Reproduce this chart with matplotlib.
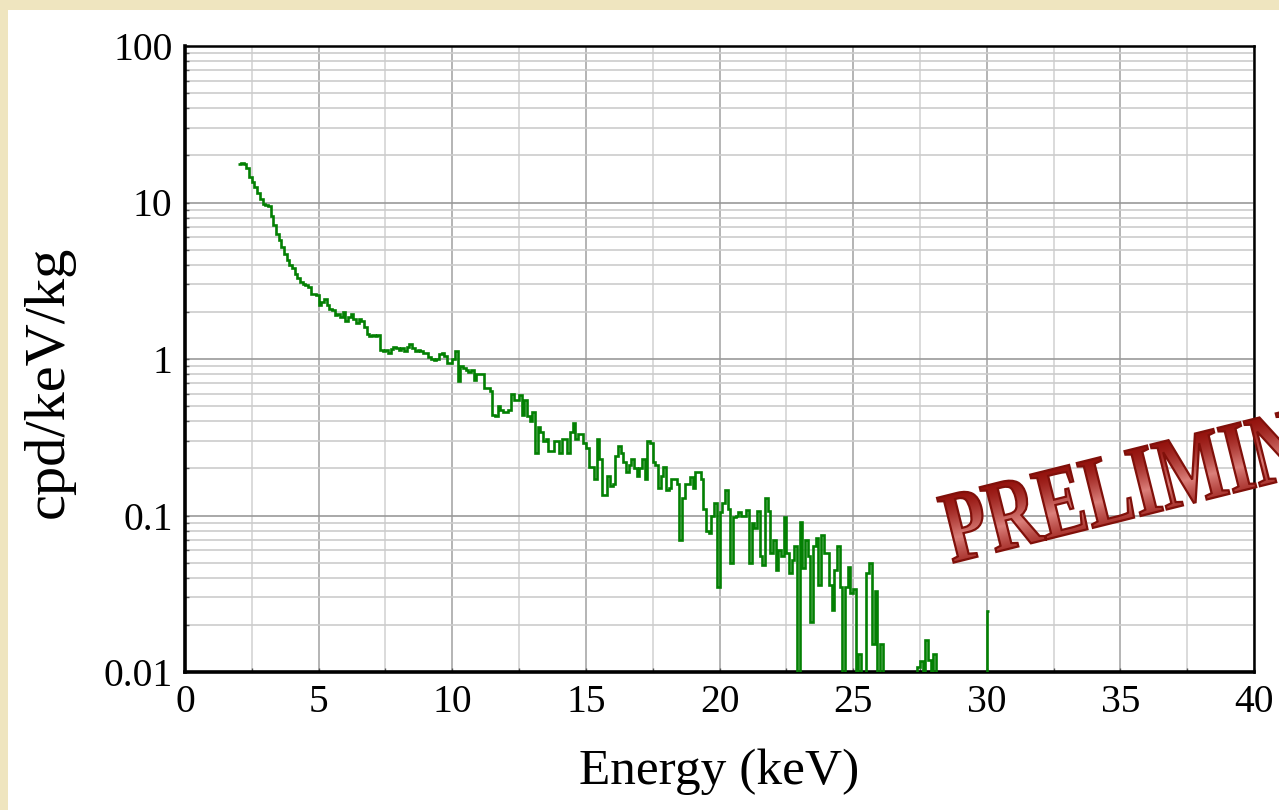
import numpy as np
import matplotlib
matplotlib.use("Agg")
import matplotlib.pyplot as plt
from matplotlib.patches import Rectangle, PathPatch
from matplotlib.textpath import TextPath
from matplotlib.font_manager import FontProperties
from matplotlib.transforms import Affine2D
from matplotlib.ticker import FixedLocator, NullFormatter

# spectrum, 0.1 keV bins starting at 2.0 keV (cpd/keV/kg), one list per keV
bin_start = 2.0
bin_width = 0.1
rate_02 = [17.5, 18, 17.5, 16.5, 14.5, 13.5, 12.5, 11.5, 10.5, 9.8]
rate_03 = [9.6, 9.5, 8.2, 7.2, 6.3, 5.8, 5.2, 4.7, 4.3, 4.0]
rate_04 = [3.8, 3.5, 3.3, 3.1, 3.0, 2.95, 2.9, 2.6, 2.6, 2.55]
rate_05 = [2.2, 2.3, 2.4, 2.2, 2.1, 2.05, 1.9, 1.95, 1.85, 2.0]
rate_06 = [1.75, 1.85, 1.95, 1.8, 1.7, 1.8, 1.75, 1.6, 1.45, 1.4]
rate_07 = [1.42, 1.4, 1.42, 1.15, 1.12, 1.14, 1.1, 1.16, 1.2, 1.18]
rate_08 = [1.15, 1.18, 1.12, 1.2, 1.25, 1.18, 1.13, 1.15, 1.12, 1.1]
rate_09 = [1.1, 1.03, 1.0, 0.99, 1.0, 1.08, 1.1, 1.05, 0.94, 0.94]
rate_10 = [1.0, 1.13, 0.72, 0.9, 0.88, 0.85, 0.83, 0.85, 0.73, 0.8]
rate_11 = [0.8, 0.8, 0.65, 0.65, 0.62, 0.44, 0.43, 0.5, 0.47, 0.46]
rate_12 = [0.46, 0.47, 0.6, 0.55, 0.55, 0.59, 0.44, 0.55, 0.43, 0.40]
rate_13 = [0.46, 0.25, 0.37, 0.34, 0.30, 0.31, 0.26, 0.26, 0.30, 0.30]
rate_14 = [0.25, 0.31, 0.31, 0.25, 0.34, 0.39, 0.31, 0.33, 0.33, 0.29]
rate_15 = [0.27, 0.205, 0.205, 0.17, 0.31, 0.23, 0.135, 0.135, 0.18, 0.155]
rate_16 = [0.16, 0.24, 0.28, 0.25, 0.22, 0.19, 0.21, 0.23, 0.2, 0.18]
rate_17 = [0.2, 0.23, 0.17, 0.30, 0.29, 0.22, 0.21, 0.15, 0.18, 0.205]
rate_18 = [0.145, 0.15, 0.17, 0.17, 0.16, 0.07, 0.13, 0.16, 0.16, 0.175]
rate_19 = [0.15, 0.19, 0.19, 0.17, 0.11, 0.08, 0.077, 0.1, 0.12, 0.035]
rate_20 = [0.105, 0.12, 0.145, 0.11, 0.05, 0.098, 0.1, 0.105, 0.1, 0.1]
rate_21 = [0.108, 0.05, 0.09, 0.083, 0.107, 0.055, 0.048, 0.13, 0.107, 0.058]
rate_22 = [0.07, 0.045, 0.06, 0.055, 0.098, 0.058, 0.043, 0.052, 0.064, 0]
rate_23 = [0.091, 0.046, 0.07, 0.055, 0.021, 0.064, 0.072, 0.036, 0.075, 0.058]
rate_24 = [0.058, 0.036, 0.025, 0.045, 0.064, 0.035, 0, 0.035, 0.047, 0.032]
rate_25 = [0.034, 0, 0.013, 0, 0, 0.043, 0.05, 0.015, 0.033, 0]
rate_26 = [0.015, 0, 0, 0, 0, 0, 0, 0, 0, 0]
rate_27 = [0, 0, 0, 0, 0.0108, 0.0118, 0, 0.016, 0.012, 0]
rate_28 = [0.013, 0, 0, 0, 0, 0, 0, 0, 0, 0]
rate_29 = [0, 0, 0, 0, 0, 0, 0, 0, 0, 0]
rate_30 = [0.0247]

ytick_vals = [0.01, 0.1, 1, 10, 100]
ytick_text = ["0.01", "0.1", "1", "10", "100"]
xtick_vals = [0, 5, 10, 15, 20, 25, 30, 35, 40]

rates = np.array(rate_02 + rate_03 + rate_04 + rate_05 + rate_06 + rate_07 +
                 rate_08 + rate_09 + rate_10 + rate_11 + rate_12 + rate_13 +
                 rate_14 + rate_15 + rate_16 + rate_17 + rate_18 + rate_19 +
                 rate_20 + rate_21 + rate_22 + rate_23 + rate_24 + rate_25 +
                 rate_26 + rate_27 + rate_28 + rate_29 + rate_30, dtype=float)
edges = bin_start + bin_width * np.arange(len(rates) + 1)
rates_plot = np.where(rates > 0, rates, 1e-6)

W, H = 1279, 810
fig = plt.figure(figsize=(W / 100, H / 100), dpi=100)
fig.patch.set_facecolor("#efe5bf")
fig.add_artist(Rectangle((8 / W, 0), 1, 1 - 10 / H, transform=fig.transFigure,
                         facecolor="white", edgecolor="none", zorder=-5))

ax = fig.add_axes([185 / W, 1 - 672 / H, (1254 - 185) / W, (672 - 46) / H])
ax.set_facecolor("white")
ax.set_yscale("log")
ax.set_xlim(0, 40)
ax.set_ylim(0.01, 100)

ax.stairs(rates_plot, edges, baseline=None, color="#038003", lw=1.9, zorder=3)

serif = "Liberation Serif"
ax.xaxis.set_major_locator(FixedLocator(xtick_vals))
ax.xaxis.set_minor_locator(FixedLocator(np.array(xtick_vals[:-1]) + 2.5))
ax.yaxis.set_major_locator(FixedLocator(ytick_vals))
minor_y = [m * d for d in ytick_vals[:-1] for m in range(2, 10)]
ax.yaxis.set_minor_locator(FixedLocator(minor_y))
ax.yaxis.set_minor_formatter(NullFormatter())
ax.set_yticklabels(ytick_text)

ax.grid(which="major", axis="x", color="#a8a8a8", lw=1.2)
ax.grid(which="minor", axis="x", color="#d4d4d4", lw=1.2)
ax.grid(which="major", axis="y", color="#999999", lw=1.2)
ax.grid(which="minor", axis="y", color="#cccccc", lw=1.2)
ax.set_axisbelow(True)

ax.tick_params(which="both", direction="in", length=3, width=1, color="#555555")
ax.tick_params(which="major", labelsize=28.5, pad=9)
for lab in ax.get_xticklabels() + ax.get_yticklabels():
    lab.set_fontfamily(serif)

for side in ["left", "bottom"]:
    ax.spines[side].set_linewidth(2.6)
for side in ["top", "right"]:
    ax.spines[side].set_linewidth(1.8)

ax.set_xlabel("Energy (keV)", fontsize=37, family=serif)
ax.xaxis.set_label_coords(0.5, -0.123)
ax.set_ylabel("cpd/keV/kg", fontsize=42, family=serif)
ax.yaxis.set_label_coords(-0.103, 0.463)

# rotated stamp with a shaded fill, partly cut off by the right edge
angle = 14.0
x0, y0 = 952, H - 563
tp = TextPath((0, 0), "PRELIMINARY", size=100,
              prop=FontProperties(family=serif, weight="bold"))
stamp_tr = Affine2D().scale(0.72, 1.02).rotate_deg(angle).translate(x0, y0)

over = fig.add_axes([0, 0, 1, 1], zorder=10)
over.set_axis_off()
over.set_xlim(0, W)
over.set_ylim(0, H)
gx, gy = np.meshgrid(np.arange(W) + 0.5, np.arange(H) + 0.5)
th = np.deg2rad(angle)
v = (-(gx - x0) * np.sin(th) + (gy - y0) * np.cos(th)) / 68.0
dark = np.array([0.58, 0.07, 0.05])
light = np.array([0.86, 0.50, 0.48])
w = np.clip(1 - np.abs(v - 0.35) / 0.65, 0, 1)[..., None]
shade = dark + (light - dark) * w ** 1.5
img = over.imshow(shade, extent=(0, W, 0, H), origin="lower", aspect="auto",
                  interpolation="bilinear")
clip = PathPatch(tp, transform=stamp_tr, facecolor="none", edgecolor="none")
img.set_clip_path(clip)
fig.add_artist(PathPatch(tp, transform=stamp_tr, facecolor="none",
                         edgecolor="#80100a", lw=1.6, zorder=11))

fig.savefig("out.png", dpi=100, facecolor=fig.get_facecolor())
